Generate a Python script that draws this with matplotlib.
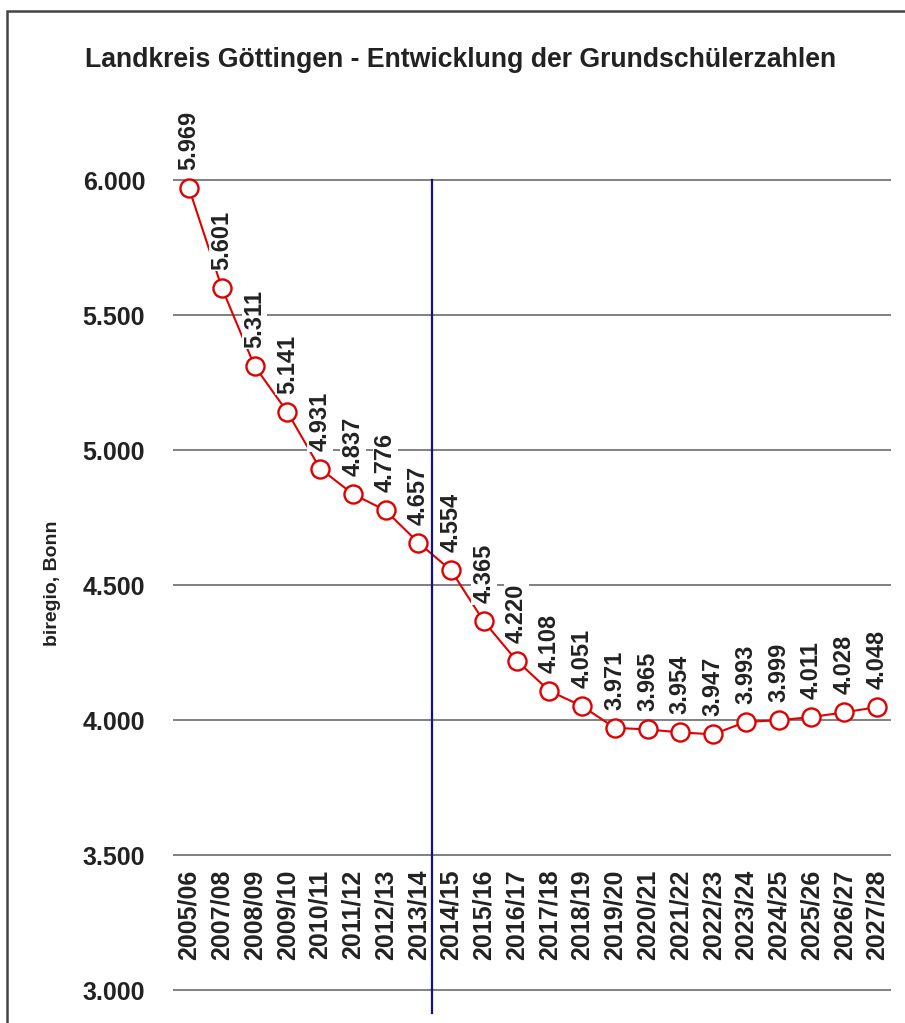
import matplotlib
matplotlib.use("Agg")
import matplotlib.pyplot as plt
from matplotlib.patches import Rectangle

plt.rcParams['font.family'] = ['Liberation Sans', 'DejaVu Sans']

title = "Landkreis Göttingen - Entwicklung der Grundschülerzahlen"
ylabel = "biregio, Bonn"
years = ["2005/06", "2007/08", "2008/09", "2009/10", "2010/11", "2011/12",
         "2012/13", "2013/14", "2014/15", "2015/16", "2016/17", "2017/18",
         "2018/19", "2019/20", "2020/21", "2021/22", "2022/23", "2023/24",
         "2024/25", "2025/26", "2026/27", "2027/28"]
values = [5969, 5601, 5311, 5141, 4931, 4837, 4776, 4657, 4554, 4365, 4220,
          4108, 4051, 3971, 3965, 3954, 3947, 3993, 3999, 4011, 4028, 4048]
yticks = [3000, 3500, 4000, 4500, 5000, 5500, 6000]
divider_pos = 7.43

W, H = 905, 1023
fig = plt.figure(figsize=(W / 100, H / 100), dpi=100)

# axes geometry in pixels
left_px, right_px = 173, 891
ymin, ymax = 2900, 6300
px_per_unit = (990 - 180) / 3000.0
top_px = 180 - (ymax - 6000) * px_per_unit
bot_px = 990 + (3000 - ymin) * px_per_unit
ax = fig.add_axes([left_px / W, 1 - bot_px / H, (right_px - left_px) / W, (bot_px - top_px) / H])
ax.set_xlim(-0.49, len(years) - 1 + 0.43)
ax.set_ylim(ymin, ymax)
for s in ax.spines.values():
    s.set_visible(False)
ax.set_xticks([])
ax.set_yticks(yticks)
ax.set_yticklabels([f"{v/1000:.3f}" for v in yticks],
                   fontsize=18, fontweight='bold', color='#222222')
ax.tick_params(axis='y', length=0, pad=20)
for v in yticks:
    ax.axhline(v, color='#808080', lw=1.4, zorder=1)

x = list(range(len(years)))
ax.plot(x, values, color='#e00000', lw=1.5, marker='o', markersize=13,
        markerfacecolor='white', markeredgecolor='#e00000', markeredgewidth=1.7, zorder=3)

for xi, v in zip(x, values):
    ax.annotate(f"{v/1000:.3f}", (xi, v), xytext=(0, 13), textcoords='offset points',
                rotation=90, ha='center', va='bottom', fontsize=17, fontweight='bold',
                color='#222222', zorder=4,
                bbox=dict(boxstyle='square,pad=0.05', fc='white', ec='none'))

for xi, lab in zip(x, years):
    ax.text(xi, 3446, lab, rotation=90, ha='center', va='top', fontsize=18,
            fontweight='bold', color='#222222', zorder=2)

ax.plot([divider_pos, divider_pos], [2915, 6000], color='#10108c', lw=1.6, zorder=5, clip_on=False)

ax.set_ylabel(ylabel, fontsize=14, fontweight='bold', color='#222222')
ax.yaxis.set_label_coords((61 - left_px) / (right_px - left_px), (1023 - 583 - (H - bot_px)) / (bot_px - top_px))

fig.text(461 / W, 1 - 60 / H, title, ha='center', va='center', fontsize=19.2,
         fontweight='bold', color='#222222')

fig.patches.append(Rectangle((7 / W, -0.1), 2, 1.1 - 11 / H, transform=fig.transFigure,
                             fill=False, ec='#444444', lw=1.8))

fig.savefig("out.png", dpi=100)
